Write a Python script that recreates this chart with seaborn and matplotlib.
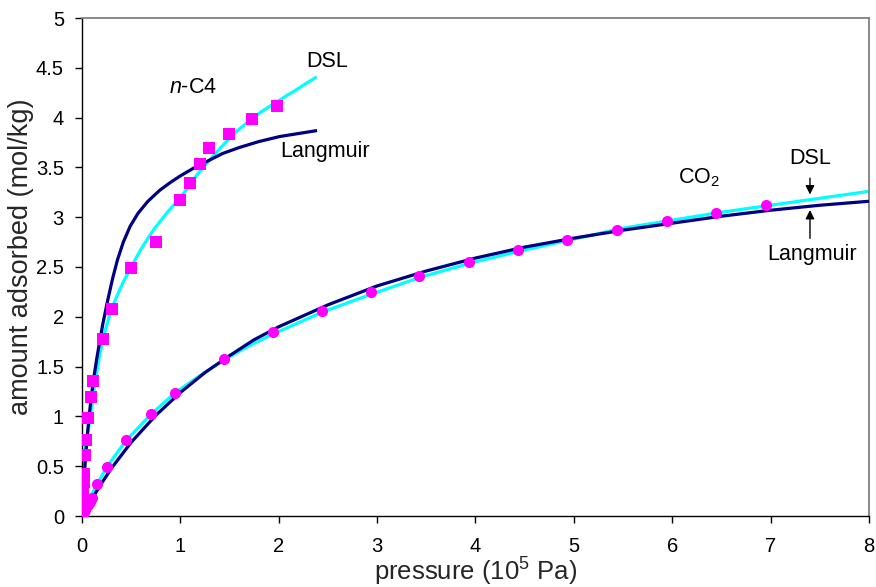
import numpy as np
import pandas as pd
import matplotlib
matplotlib.use("Agg")
import matplotlib.pyplot as plt
import seaborn as sns

# ---------------- data ----------------
# n-C4 experimental points (squares)
nc4_p = [0.002, 0.004, 0.006, 0.008, 0.010, 0.012, 0.015, 0.018, 0.021, 0.027,
         0.040, 0.064, 0.088, 0.110, 0.210, 0.300, 0.500, 0.750, 1.000, 1.100,
         1.200, 1.290, 1.490, 1.730, 1.980]
nc4_q = [0.02, 0.05, 0.09, 0.13, 0.17, 0.22, 0.28, 0.34, 0.42, 0.61,
         0.76, 0.98, 1.19, 1.36, 1.78, 2.08, 2.49, 2.75, 3.17, 3.34,
         3.53, 3.69, 3.84, 3.99, 4.12]

# CO2 experimental points (circles)
co2_p = [0.005, 0.010, 0.020, 0.030, 0.045, 0.060, 0.080, 0.100, 0.150, 0.250,
         0.450, 0.700, 0.950, 1.440, 1.940, 2.440, 2.940, 3.430, 3.930, 4.430,
         4.930, 5.440, 5.950, 6.440, 6.950]
co2_q = [0.01, 0.02, 0.04, 0.06, 0.09, 0.11, 0.14, 0.18, 0.32, 0.49,
         0.76, 1.02, 1.23, 1.58, 1.85, 2.06, 2.25, 2.41, 2.55, 2.67,
         2.77, 2.87, 2.96, 3.04, 3.12]

# n-C4 Langmuir fit curve (navy)
nc4_lang_p = [0.0, 0.005, 0.01, 0.02, 0.03, 0.04, 0.055, 0.074, 0.10, 0.125,
              0.15, 0.176, 0.21, 0.26, 0.31, 0.36, 0.42, 0.49, 0.57, 0.67,
              0.79, 0.90, 1.00, 1.13, 1.27, 1.43, 1.60, 1.80, 2.01, 2.20,
              2.39]
nc4_lang_q = [0.0, 0.09, 0.18, 0.35, 0.50, 0.64, 0.82, 1.02, 1.24, 1.42,
              1.58, 1.73, 1.92, 2.16, 2.38, 2.57, 2.75, 2.91, 3.04, 3.16,
              3.27, 3.35, 3.415, 3.49, 3.56, 3.64, 3.70, 3.76, 3.81, 3.84,
              3.87]

# n-C4 DSL fit curve (cyan)
nc4_dsl_p = [0.0, 0.005, 0.01, 0.02, 0.035, 0.05, 0.068, 0.091, 0.115, 0.142,
             0.18, 0.227, 0.27, 0.31, 0.36, 0.42, 0.505, 0.60, 0.725, 0.86,
             1.00, 1.08, 1.165, 1.25, 1.33, 1.45, 1.57, 1.69, 1.81, 1.95,
             2.08, 2.18, 2.29, 2.385]
nc4_dsl_q = [0.0, 0.20, 0.36, 0.56, 0.72, 0.80, 0.88, 1.05, 1.22, 1.40,
             1.62, 1.83, 1.98, 2.10, 2.22, 2.35, 2.51, 2.68, 2.87, 3.04,
             3.20, 3.30, 3.42, 3.52, 3.61, 3.74, 3.86, 3.96, 4.05, 4.14,
             4.22, 4.28, 4.35, 4.41]

# CO2 Langmuir fit curve (navy)
co2_lang_p = [0.0, 0.05, 0.10, 0.20, 0.30, 0.50, 0.75, 1.00, 1.25, 1.50,
              1.75, 2.00, 2.50, 3.00, 3.50, 4.00, 4.50, 5.00, 5.50, 6.00,
              6.50, 7.00, 7.50, 8.00]
co2_lang_q = [0.0, 0.09, 0.17, 0.33, 0.48, 0.74, 1.01, 1.24, 1.44, 1.61,
              1.77, 1.90, 2.12, 2.31, 2.46, 2.59, 2.70, 2.79, 2.87, 2.94,
              3.01, 3.07, 3.12, 3.16]

# CO2 DSL fit curve (cyan)
co2_dsl_p = [0.0, 0.05, 0.10, 0.15, 0.25, 0.45, 0.70, 0.95, 1.20, 1.45,
             1.70, 1.95, 2.45, 2.95, 3.45, 3.95, 4.45, 4.95, 5.50, 6.00,
             6.50, 7.00, 7.50, 8.00]
co2_dsl_q = [0.0, 0.12, 0.22, 0.31, 0.49, 0.76, 1.02, 1.24, 1.41, 1.57,
             1.71, 1.83, 2.05, 2.23, 2.40, 2.54, 2.66, 2.77, 2.89, 2.97,
             3.05, 3.12, 3.19, 3.26]

x_ticks = [0, 1, 2, 3, 4, 5, 6, 7, 8]
y_ticks = [0, 0.5, 1, 1.5, 2, 2.5, 3, 3.5, 4, 4.5, 5]
y_tick_labels = ["0", "0.5", "1", "1.5", "2", "2.5", "3", "3.5", "4", "4.5", "5"]

# ---------------- style ----------------
sns.set_style("white")
plt.rcParams["font.family"] = ["Liberation Sans", "DejaVu Sans"]
plt.rcParams["mathtext.fontset"] = "custom"
plt.rcParams["mathtext.rm"] = "Liberation Sans"
plt.rcParams["mathtext.it"] = "Liberation Sans:italic"

NAVY = "#000080"
CYAN = "#00FFFF"
MAGENTA = "#FF00FF"

fig = plt.figure(figsize=(8.76, 5.87), dpi=100)
ax = fig.add_axes([82 / 876, 1 - 516 / 587, (869 - 82) / 876, (516 - 18) / 587])

def curve(p, q):
    return pd.DataFrame({"p": p, "q": q})

line_kw = dict(lw=2.3, sort=False, estimator=None, solid_capstyle="butt")
# fitted curves: cyan under navy
sns.lineplot(data=curve(nc4_dsl_p, nc4_dsl_q), x="p", y="q", ax=ax, color=CYAN,
             zorder=2, **line_kw)
sns.lineplot(data=curve(co2_dsl_p, co2_dsl_q), x="p", y="q", ax=ax, color=CYAN,
             zorder=2, **line_kw)
sns.lineplot(data=curve(nc4_lang_p, nc4_lang_q), x="p", y="q", ax=ax, color=NAVY,
             zorder=3, **line_kw)
sns.lineplot(data=curve(co2_lang_p, co2_lang_q), x="p", y="q", ax=ax, color=NAVY,
             zorder=3, **line_kw)

# experimental points
sns.scatterplot(data=curve(nc4_p, nc4_q), x="p", y="q", ax=ax, marker="s",
                s=64, color=MAGENTA, edgecolor=MAGENTA, linewidth=0, zorder=4)
sns.scatterplot(data=curve(co2_p, co2_q), x="p", y="q", ax=ax, marker="o",
                s=64, color=MAGENTA, edgecolor=MAGENTA, linewidth=0, zorder=4)

# ---------------- axes ----------------
ax.set_xlim(0, 8)
ax.set_ylim(0, 5)
ax.set_xticks(x_ticks)
ax.set_xticklabels([str(t) for t in x_ticks])
ax.set_yticks(y_ticks)
ax.set_yticklabels(y_tick_labels)
ax.tick_params(axis="both", direction="out", length=5, width=1, color="black",
               labelsize=14.5, labelcolor="black")
ax.tick_params(axis="x", pad=10)
ax.tick_params(axis="y", pad=8)
ax.tick_params(left=True, bottom=True)

for side in ["left", "bottom"]:
    ax.spines[side].set_color("black")
    ax.spines[side].set_linewidth(1.0)
for side in ["top", "right"]:
    ax.spines[side].set_visible(True)
    ax.spines[side].set_color("#808080")
    ax.spines[side].set_linewidth(1.3)

ax.set_xlabel("pressure (10$^{5}$ Pa)", fontsize=18.5)
ax.set_ylabel("amount adsorbed (mol/kg)", fontsize=19.5)
ax.xaxis.set_label_coords(0.5, -0.113)
ax.xaxis.label.set_va("center")
ax.yaxis.set_label_coords(-0.077, 0.52)
ax.yaxis.label.set_va("center")

# ---------------- annotations ----------------
txt = dict(fontsize=15.5, color="black", ha="center", va="center", zorder=6)
ax.text(1.13, 4.30, "$n$-C4", **txt)
ax.text(2.49, 4.56, "DSL", **txt)
ax.text(2.47, 3.66, "Langmuir", **txt)
ax.text(6.27, 3.40, "CO$_{2}$",
        bbox=dict(boxstyle="square,pad=0.85", fc="white", ec="none"), **txt)
ax.text(7.40, 3.59, "DSL", **txt)
ax.text(7.42, 2.63, "Langmuir", **txt)

arrow = dict(arrowstyle="-|>", color="black", lw=1.0, mutation_scale=13)
ax.annotate("", xy=(7.40, 3.20), xytext=(7.40, 3.42), arrowprops=arrow)
ax.annotate("", xy=(7.40, 3.10), xytext=(7.40, 2.76), arrowprops=arrow)

fig.savefig("out.png", dpi=100)
